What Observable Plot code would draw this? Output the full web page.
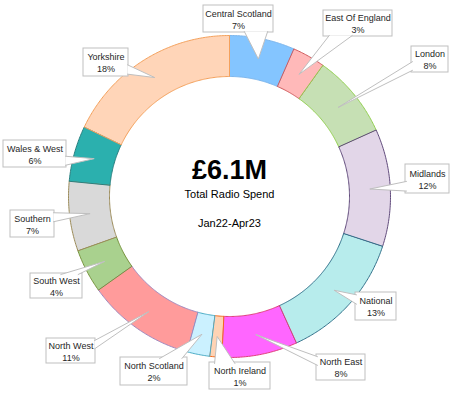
<!DOCTYPE html>
<html><head><meta charset="utf-8">
<script src="https://cdn.jsdelivr.net/npm/d3@7"></script>
<script src="https://cdn.jsdelivr.net/npm/@observablehq/plot@0.6"></script>
<style>html,body{margin:0;padding:0;background:#fff;}</style>
</head><body><div id="chart"></div>
<script>
// ---- data ----
const regions = ["Central Scotland","East Of England","London","Midlands","National","North East","North Ireland","North Scotland","North West","South West","Southern","Wales & West","Yorkshire"];
const values  = [6.6, 3.3, 8.4, 11.8, 13.2, 7.6, 1.2, 2.3, 10.9, 4.4, 7.0, 5.6, 17.9];
const pctLabels = [7, 3, 8, 12, 13, 8, 1, 2, 11, 4, 7, 6, 18];
const centerTitle = "£6.1M";
const centerSub = "Total Radio Spend";
const centerPeriod = "Jan22-Apr23";

// ---- styles ----
const fills   = ["#84C5FF","#FFB9B9","#C6E0B4","#E2D6E8","#B7ECEC","#FF66FF","#FFD3B4","#CBF1FF","#FF9B9B","#A9D18E","#D9D9D9","#2BB0AE","#FFD5B8"];
const strokes = ["#7DB6EC","#D0595B","#92D050","#604A7B","#31708A","#E0407A","#F26B1D","#4BACC6","#A08AC0","#76923C","#9C8C5A","#2A8080","#F4A15C"];

// ---- layout (pixels) ----
const W = 454, H = 394, cx = 229, cy = 196, rOuter = 161, rInner = 120;
const boxes = [
  [203,5,273,32],[323,10,392,36],[411,46,448,72],[405,164,449,193],
  [355,292,396,320],[316,354,365,380],[209,362,270,389],[120,357,187,385],
  [46,338,95,363],[30,273,82,298],[10,210,54,237],[3,140,66,167],[83,48,128,76]
];

const arcs = d3.pie().sort(null).value(d => d)(values);
const px = (r, a) => cx + r * Math.sin(a);
const py = (r, a) => cy - r * Math.cos(a);

// slice polygons
const slicePts = [];
arcs.forEach((a, i) => {
  const n = Math.max(2, Math.ceil((a.endAngle - a.startAngle) / 0.01));
  for (let k = 0; k <= n; k++) {
    const t = a.startAngle + (a.endAngle - a.startAngle) * k / n;
    slicePts.push({id: i, x: px(rOuter, t), y: py(rOuter, t), fill: fills[i], stroke: strokes[i]});
  }
  for (let k = n; k >= 0; k--) {
    const t = a.startAngle + (a.endAngle - a.startAngle) * k / n;
    slicePts.push({id: i, x: px(rInner, t), y: py(rInner, t), fill: fills[i], stroke: strokes[i]});
  }
});

// callouts
const boxData = boxes.map((b, i) => ({i, x1: b[0], y1: b[1], x2: b[2], y2: b[3],
  cxb: (b[0] + b[2]) / 2, cyb: (b[1] + b[3]) / 2,
  label: regions[i] + "\n" + pctLabels[i] + "%"}));
const wedgePts = [];
arcs.forEach((a, i) => {
  const mid = (a.startAngle + a.endAngle) / 2;
  const rm = (rOuter + rInner) / 2;
  const tx = px(rm, mid), ty = py(rm, mid);
  const b = boxData[i];
  const w = b.x2 - b.x1, h = b.y2 - b.y1;
  const dx = tx - b.cxb, dy = ty - b.cyb;
  let p1, p2;
  if (Math.abs(dx) * h > Math.abs(dy) * w) {
    const ex = dx > 0 ? b.x2 - 1 : b.x1 + 1;
    const f = dy > 0 ? [7/12, 11/12] : [1/12, 5/12];
    p1 = [ex, b.y1 + h * f[0]]; p2 = [ex, b.y1 + h * f[1]];
  } else {
    const ey = dy > 0 ? b.y2 - 1 : b.y1 + 1;
    const f = dx > 0 ? [7/12, 11/12] : [1/12, 5/12];
    p1 = [b.x1 + w * f[0], ey]; p2 = [b.x1 + w * f[1], ey];
  }
  wedgePts.push({id: i, x: p1[0], y: p1[1]}, {id: i, x: tx, y: ty}, {id: i, x: p2[0], y: p2[1]});
});

const chart = Plot.plot({
  width: W, height: H,
  margin: 0,
  x: {domain: [0, W], range: [0, W], axis: null},
  y: {domain: [0, H], range: [0, H], axis: null},
  color: {type: "identity"},
  style: {fontFamily: "'Liberation Sans', Arial, sans-serif", background: "#fff"},
  marks: [
    Plot.line(slicePts, {x: "x", y: "y", z: "id", fill: "fill", stroke: "stroke", strokeWidth: 1, curve: "linear-closed"}),
    Plot.rect(boxData, {x1: "x1", x2: "x2", y1: "y1", y2: "y2", fill: "white", stroke: "#BFBFBF", strokeWidth: 1}),
    Plot.line(wedgePts, {x: "x", y: "y", z: "id", fill: "white", stroke: "#BFBFBF", strokeWidth: 1}),
    Plot.text(boxData, {x: "cxb", y: "cyb", text: "label", fontSize: 9, lineHeight: 1.33, fill: "#262626"}),
    Plot.text([centerTitle], {x: () => cx, y: () => 169.5, text: d => d, fontSize: 27, fontWeight: "bold", fill: "#000"}),
    Plot.text([centerSub], {x: () => cx, y: () => 193.5, text: d => d, fontSize: 11, fill: "#000"}),
    Plot.text([centerPeriod], {x: () => cx, y: () => 222.5, text: d => d, fontSize: 11, fill: "#000"})
  ]
});
document.getElementById("chart").appendChild(chart);
</script>
</body></html>
